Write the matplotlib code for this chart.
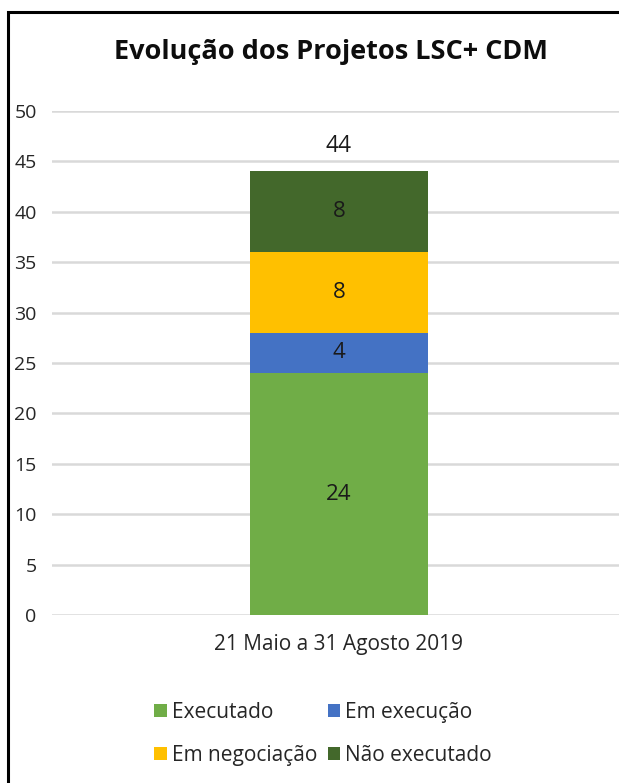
import matplotlib
matplotlib.use("Agg")
import matplotlib.pyplot as plt
from matplotlib.patches import Rectangle

# ── Data ─────────────────────────────────────────────────────────────────────
period   = ["21 Maio a 31 Agosto 2019"]
series   = ["Executado", "Em execução", "Em negociação", "Não executado"]
values   = [24, 4, 8, 8]
colors   = ["#70AD47", "#4472C4", "#FFC000", "#43682B"]
y_ticks  = [0, 5, 10, 15, 20, 25, 30, 35, 40, 45, 50]

plt.rcParams["font.family"] = ["Open Sans", "DejaVu Sans"]

W, H = 619, 783
fig = plt.figure(figsize=(W / 100, H / 100), dpi=100)
ax = fig.add_axes([52 / W, 1 - 615 / H, 574 / W, 504 / H])

bottom = 0
handles = []
for name, val, col in zip(series, values, colors):
    b = ax.bar(0, val, bottom=bottom, width=0.31, color=col, label=name, zorder=3)
    ax.text(0, bottom + val / 2, str(val), ha="center", va="center",
            fontsize=16, color="#1a1a1a", zorder=4)
    handles.append(b)
    bottom += val

ax.text(0, bottom + 1.3, str(bottom), ha="center", va="bottom", fontsize=16.5, color="#1a1a1a")

ax.set_xlim(-0.5, 0.5)
ax.set_ylim(0, 50)
ax.set_yticks(y_ticks)
ax.set_xticks([0])
ax.set_xticklabels(period, fontsize=15, color="#262626")
ax.tick_params(axis="x", length=0, pad=14)
ax.tick_params(axis="y", length=0, labelsize=14, labelcolor="#262626", pad=11)
ax.yaxis.grid(True, color="#d9d9d9", linewidth=1.8, zorder=0)
for s in ax.spines.values():
    s.set_visible(False)

fig.text(331 / W, 1 - 52 / H, "Evolução dos Projetos LSC+ CDM", ha="center", va="center",
         fontsize=19.5, fontweight="bold", color="#0d0d0d")

# legend is filled column by column -> reorder so rows read like the original
order = [0, 2, 1, 3]
fig.legend(handles=[handles[i] for i in order], labels=[series[i] for i in order],
           ncol=2, loc="center", bbox_to_anchor=(323 / W, 1 - 734 / H), frameon=False,
           fontsize=15, handlelength=0.6, handleheight=0.6, handletextpad=0.25,
           columnspacing=0.5, labelspacing=1.05, labelcolor="#262626")

# outer frame (left and top visible, right/bottom cropped)
fig.patches.append(Rectangle((8 / W, -0.05), 1.2, 1 - 12 / H + 0.05, transform=fig.transFigure,
                             fill=False, edgecolor="black", linewidth=2.2))

fig.savefig("out.png", dpi=100)
